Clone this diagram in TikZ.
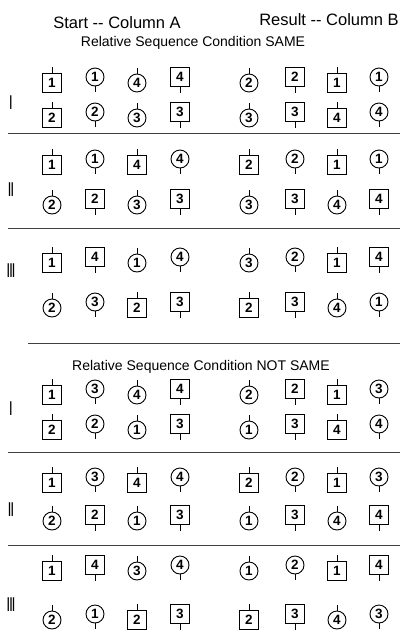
\documentclass[tikz,border=0pt]{standalone}
\usepackage{fontspec}
\setmainfont{Liberation Sans}

\tikzset{
  tokb/.style={draw, line width=1pt, minimum size=19pt, inner sep=0pt,
    font=\bfseries\fontsize{13.5}{13.5}\selectfont},
  tokr/.style={draw, circle, line width=0.9pt, minimum size=18pt, inner sep=0pt,
    font=\bfseries\fontsize{13.5}{13.5}\selectfont},
  tickmark/.style={line width=0.9pt},
  divider/.style={line width=1pt, black!75},
  rowlabel/.style={font=\bfseries\fontsize{20}{20}\selectfont, inner sep=0pt},
}

% one row of eight tokens: #1 name prefix, #2 y, #3 list kind/number/u|d
\newcommand{\tokrow}[3]{%
  \foreach \kind/\num/\dir [count=\k] in {#3} {
    \pgfmathsetmacro{\xx}{{52,95,137,180,249,295,337,379}[\k-1]}
    \if\dir u
      \node[tok\kind] (#1-\k) at (\xx,#2+3) {\num};
      \draw[tickmark] (#1-\k.north) -- ++(0,-6);
    \else
      \node[tok\kind] (#1-\k) at (\xx,#2-3) {\num};
      \draw[tickmark] (#1-\k.south) -- ++(0,6);
    \fi
  }%
}
\newcommand{\romlab}[1]{\scalebox{0.45}[1]{#1}}

\begin{document}
\begin{tikzpicture}[x=1pt, y=-1pt]
  \useasboundingbox (0,0) rectangle (401,638);

  % --- headings ---
  \node[font=\fontsize{16.5}{18}\selectfont] (colA) at (117,23) {Start -{}- Column A};
  \node[font=\fontsize{16.5}{18}\selectfont] (colB) at (329,20) {Result -{}- Column B};
  \node[font=\fontsize{14}{16}\selectfont] (same) at (193,43) {Relative Sequence Condition SAME};

  % --- SAME, I ---
  \tokrow{sIa}{80}{b/1/u, r/1/d, r/4/u, b/4/d, r/2/u, b/2/d, b/1/u, r/1/d}
  \tokrow{sIb}{115}{b/2/u, r/2/d, r/3/u, b/3/d, r/3/u, b/3/d, b/4/u, r/4/d}
  \node[rowlabel] (sI) at (11,103) {\romlab{I}};
  \draw[divider] (8,133) -- (400,133);

  % --- SAME, II ---
  \tokrow{sIIa}{162}{b/1/u, r/1/d, b/4/u, r/4/d, b/2/u, r/2/d, b/1/u, r/1/d}
  \tokrow{sIIb}{202}{r/2/u, b/2/d, r/3/u, b/3/d, r/3/u, b/3/d, r/4/u, b/4/d}
  \node[rowlabel] (sII) at (11,190) {\romlab{II}};
  \draw[divider] (8,228) -- (400,228);

  % --- SAME, III ---
  \tokrow{sIIIa}{260}{b/1/u, b/4/d, r/1/u, r/4/d, r/3/u, r/2/d, b/1/u, b/4/d}
  \tokrow{sIIIb}{305}{r/2/u, r/3/d, b/2/u, b/3/d, b/2/u, b/3/d, r/4/u, r/1/d}
  \node[rowlabel] (sIII) at (11,271) {\romlab{III}};
  \draw[divider] (28,343) -- (400,343);

  \node[font=\fontsize{14}{16}\selectfont] (notsame) at (201,367) {Relative Sequence Condition NOT SAME};

  % --- NOT SAME, I ---
  \tokrow{nIa}{392}{b/1/u, r/3/d, r/4/u, b/4/d, r/2/u, b/2/d, b/1/u, r/3/d}
  \tokrow{nIb}{427}{b/2/u, r/2/d, r/1/u, b/3/d, r/1/u, b/3/d, b/4/u, r/4/d}
  \node[rowlabel] (nI) at (11,409) {\romlab{I}};
  \draw[divider] (8,452) -- (400,452);

  % --- NOT SAME, II ---
  \tokrow{nIIa}{480}{b/1/u, r/3/d, b/4/u, r/4/d, b/2/u, r/2/d, b/1/u, r/3/d}
  \tokrow{nIIb}{518}{r/2/u, b/2/d, r/1/u, b/3/d, r/1/u, b/3/d, r/4/u, b/4/d}
  \node[rowlabel] (nII) at (11,510) {\romlab{II}};
  \draw[divider] (8,545) -- (400,545);

  % --- NOT SAME, III ---
  \tokrow{nIIIa}{568}{b/1/u, b/4/d, r/3/u, r/4/d, r/1/u, r/2/d, b/1/u, b/4/d}
  \tokrow{nIIIb}{617}{r/2/u, r/1/d, b/2/u, b/3/d, b/2/u, b/3/d, r/4/u, r/3/d}
  \node[rowlabel] (nIII) at (11,605) {\romlab{III}};
\end{tikzpicture}
\end{document}
